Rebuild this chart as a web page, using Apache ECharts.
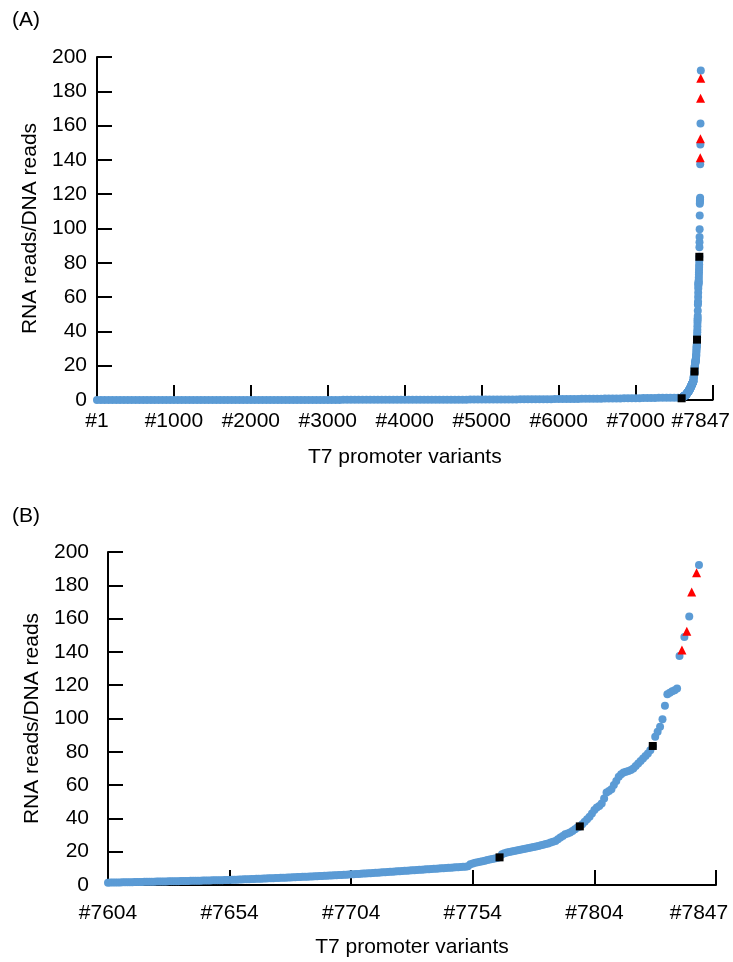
<!DOCTYPE html>
<html>
<head>
<meta charset="utf-8">
<script src="https://cdn.jsdelivr.net/npm/echarts@6/dist/echarts.min.js"></script>
<style>html,body{margin:0;padding:0;background:#fff}#c{width:733px;height:962px}</style>
</head>
<body>
<div id="c"></div>
<script>
// ---- data ----
// Panel A: low-value region, one reading every 50 variants (#1, #51, ... #7551)
const lowStart = 1, lowStep = 50;
const lowValues = [
0,0,0,0,0,0,0.001,0.001,0.002,0.002,
0.003,0.003,0.004,0.004,0.005,0.005,0.006,0.006,0.007,0.007,
0.008,0.009,0.01,0.011,0.012,0.013,0.014,0.015,0.016,0.017,
0.018,0.019,0.02,0.021,0.022,0.023,0.024,0.025,0.026,0.027,
0.028,0.03,0.031,0.033,0.034,0.036,0.037,0.039,0.04,0.042,
0.044,0.046,0.048,0.05,0.052,0.054,0.056,0.058,0.06,0.062,
0.064,0.066,0.069,0.071,0.074,0.076,0.079,0.081,0.084,0.087,
0.09,0.093,0.096,0.1,0.103,0.107,0.11,0.114,0.118,0.122,
0.126,0.13,0.135,0.14,0.145,0.15,0.155,0.16,0.166,0.172,
0.178,0.184,0.19,0.197,0.204,0.211,0.218,0.226,0.234,0.242,
0.25,0.26,0.27,0.28,0.29,0.3,0.31,0.32,0.335,0.35,
0.365,0.38,0.395,0.41,0.425,0.44,0.46,0.48,0.5,0.52,
0.54,0.56,0.58,0.6,0.62,0.645,0.67,0.695,0.72,0.745,
0.77,0.795,0.82,0.85,0.88,0.91,0.94,0.97,1.0,1.03,
1.06,1.09,1.12,1.15,1.18,1.21,1.24,1.27,1.3,1.33,
1.36,1.38
];
// Variants #7604 ... #7847 (one value each; null where a red triangle stands)
const highStart = 7604;
const highValues = [
1.40,1.44,1.47,1.50,1.53,1.57,1.60,1.63,1.66,1.69,
1.72,1.75,1.78,1.82,1.85,1.88,1.91,1.94,1.97,2.00,
2.03,2.06,2.10,2.13,2.16,2.19,2.22,2.26,2.29,2.32,
2.35,2.38,2.42,2.45,2.48,2.52,2.55,2.58,2.62,2.65,
2.68,2.72,2.75,2.78,2.82,2.85,2.88,2.92,2.95,2.98,
3.02,3.08,3.14,3.20,3.26,3.32,3.38,3.44,3.50,3.56,
3.62,3.68,3.74,3.80,3.86,3.92,3.98,4.04,4.10,4.16,
4.22,4.29,4.35,4.42,4.48,4.55,4.61,4.68,4.74,4.81,
4.88,4.95,5.02,5.09,5.16,5.23,5.30,5.38,5.45,5.52,
5.60,5.67,5.75,5.82,5.90,5.98,6.06,6.14,6.22,6.30,
6.40,6.49,6.58,6.67,6.76,6.85,6.94,7.03,7.12,7.21,
7.30,7.40,7.50,7.60,7.70,7.80,7.90,8.00,8.10,8.20,
8.30,8.40,8.50,8.60,8.70,8.80,8.90,9.00,9.10,9.20,
9.30,9.40,9.50,9.60,9.70,9.80,9.90,10.0,10.1,10.2,
10.3,10.4,10.5,10.6,10.7,10.8,10.9,11.0,11.2,12.4,
12.9,13.3,13.6,14.0,14.3,14.6,15.0,15.3,15.6,15.9,
16.2,16.6,18.4,19.1,19.5,19.8,20.1,20.4,20.7,21.0,
21.3,21.6,21.9,22.2,22.5,22.8,23.1,23.4,23.8,24.2,
24.6,25.0,25.5,26.0,26.4,27.5,28.5,29.5,30.5,31.0,
31.5,32.5,33.5,34.5,35.2,36.5,38.0,39.5,41.0,43.0,
45.0,46.5,47.5,49.0,52.0,55.5,56.5,57.5,60.0,62.5,
65.0,66.5,67.5,68.0,68.5,69.0,70.0,71.5,73.0,74.5,
76.0,77.5,79.0,81.0,83.5,89.0,92.0,95.0,99.6,107.6,
114.5,115.5,116.3,117.0,118.0,137.5,null,149.0,null,161.2,
null,null,null,192.2
];
// Highlighted variants
const triangleIdx = [7840, 7842, 7844, 7846];
const triangleVal = [141.2, 152.4, 176.0, 187.6];
const squareIdx = [7598, 7765, 7798, 7828];
const squareVal = [1.0, 16.6, 35.2, 83.5];
// Axis ticks / labels
const topTickVals = [1001, 2001, 3001, 4001, 5001, 6001, 7001, 8001];
const topLabelVals = [1, 1000, 2000, 3000, 4000, 5000, 6000, 7000, 7847];
const botTickVals = [7654, 7704, 7754, 7804, 7854];
const botLabelVals = [7604, 7654, 7704, 7754, 7804, 7847];
const yName = 'RNA reads/DNA reads';
const xName = 'T7 promoter variants';

// ---- build ----
const lowPts = lowValues.map((v, i) => [lowStart + i * lowStep, v]);
const highPts = highValues.map((v, i) => [highStart + i, v]).filter(p => p[1] !== null);
const triPts = triangleIdx.map((x, i) => [x, triangleVal[i]]);
const sqPts = squareIdx.map((x, i) => [x, squareVal[i]]);

const FONT = 'Liberation Sans, Arial, sans-serif';
const BLUE = '#5B9BD5';
const black = '#000';
const txt = { color: black, fontSize: 21, fontFamily: FONT };

function xAx(gi, min, max, ticks, labels, margin, gap) {
  return {
    gridIndex: gi, type: 'value', min: min, max: max,
    axisLine: { show: true, lineStyle: { color: black, width: 2 } },
    axisTick: { show: true, inside: true, length: 15, lineStyle: { color: black, width: 2 }, customValues: ticks },
    axisLabel: Object.assign({ customValues: labels, formatter: v => '#' + v, margin: margin }, txt),
    splitLine: { show: false },
    name: xName, nameLocation: 'middle', nameGap: gap, nameTextStyle: txt
  };
}
function yAx(gi, margin, gap) {
  return {
    gridIndex: gi, type: 'value', min: 0, max: 200, interval: 20,
    axisLine: { show: true, lineStyle: { color: black, width: 2 } },
    axisTick: { show: true, inside: true, length: 15, lineStyle: { color: black, width: 2 } },
    axisLabel: Object.assign({ margin: margin }, txt),
    splitLine: { show: false },
    name: yName, nameLocation: 'middle', nameGap: gap, nameTextStyle: txt
  };
}
function sc(gi, data, symbol, size, color) {
  return {
    type: 'scatter', xAxisIndex: gi, yAxisIndex: gi, data: data, symbol: symbol,
    symbolSize: size, itemStyle: { color: color, opacity: 1 }, clip: false, silent: true,
    animation: false
  };
}

const chart = echarts.init(document.getElementById('c'), null, { renderer: 'canvas' });
chart.setOption({
  animation: false,
  backgroundColor: '#fff',
  title: [
    { text: '(A)', left: 7, top: 5, textStyle: Object.assign({ fontWeight: 'normal' }, txt) },
    { text: '(B)', left: 7, top: 501, textStyle: Object.assign({ fontWeight: 'normal' }, txt) }
  ],
  grid: [
    { left: 97, top: 57, width: 619, height: 343, containLabel: false },
    { left: 108, top: 552, width: 608, height: 333, containLabel: false }
  ],
  xAxis: [
    xAx(0, 1, 8001, topTickVals, topLabelVals, 11, 47),
    xAx(1, 7604, 7854, botTickVals, botLabelVals, 18, 52)
  ],
  yAxis: [yAx(0, 10, 53), yAx(1, 19, 63)],
  series: [
    sc(0, lowPts.concat(highPts), 'circle', 8, BLUE),
    sc(0, triPts, 'triangle', 9, '#FF0000'),
    sc(0, sqPts, 'rect', 8, black),
    sc(1, highPts, 'circle', 8, BLUE),
    sc(1, triPts, 'triangle', 9, '#FF0000'),
    sc(1, sqPts.filter(p => p[0] >= 7604), 'rect', 8, black)
  ]
});
</script>
</body>
</html>
